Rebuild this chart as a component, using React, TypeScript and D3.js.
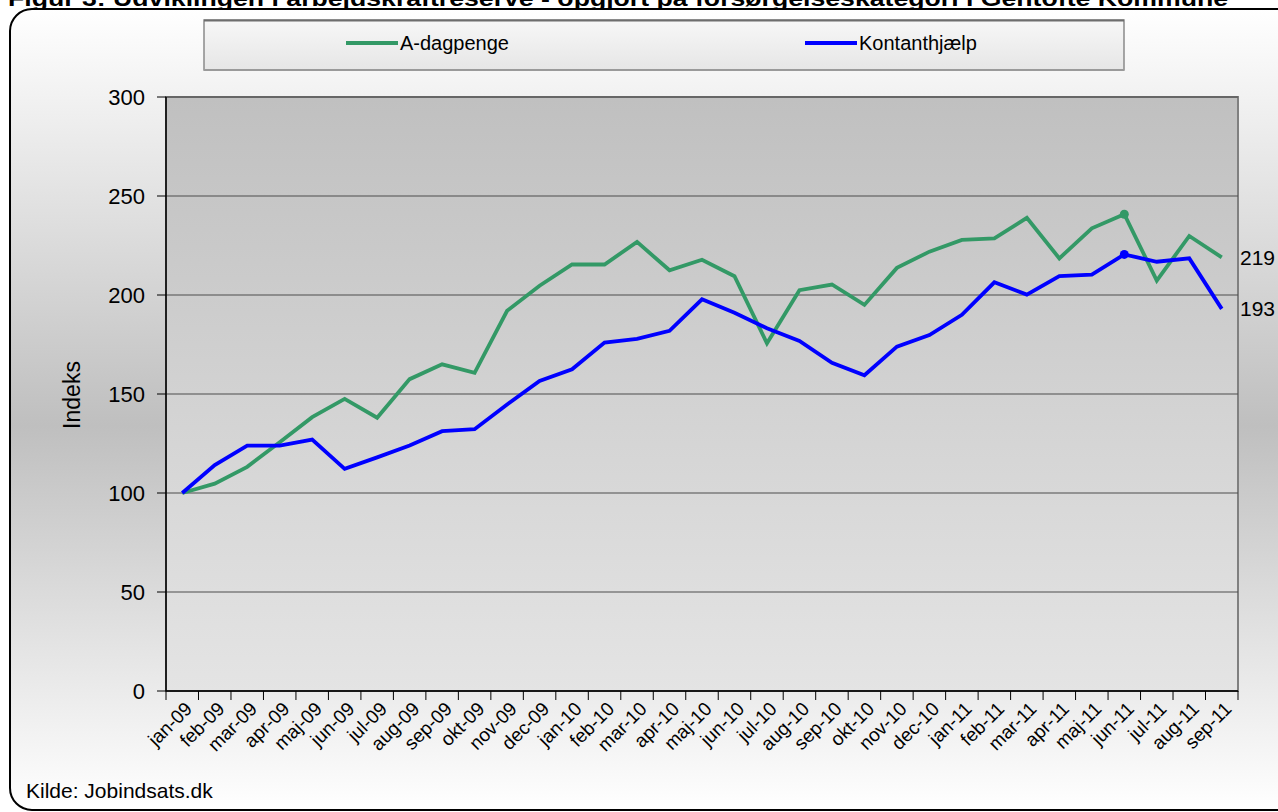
import React from "react";
import * as d3 from "d3";

const categories = [
  "jan-09","feb-09","mar-09","apr-09","maj-09","jun-09","jul-09","aug-09","sep-09","okt-09","nov-09","dec-09",
  "jan-10","feb-10","mar-10","apr-10","maj-10","jun-10","jul-10","aug-10","sep-10","okt-10","nov-10","dec-10",
  "jan-11","feb-11","mar-11","apr-11","maj-11","jun-11","jul-11","aug-11","sep-11",
];

const aDagpenge = [
  100, 104.7, 113.2, 125.6, 138.3, 147.5, 138, 157.5, 165, 160.7, 192, 204.7,
  215.4, 215.4, 226.8, 212.5, 217.8, 209.5, 175.6, 202.4, 205.3, 195, 213.7, 221.9,
  227.8, 228.6, 239, 218.5, 233.7, 240.8, 207.3, 229.8, 219,
];

const kontanthjaelp = [
  100, 114.1, 123.9, 123.9, 127, 112.2, 118, 124, 131.2, 132.2, 144.7, 156.6,
  162.5, 176, 177.8, 181.9, 197.8, 191, 183.2, 176.8, 165.8, 159.5, 173.9, 179.8,
  190, 206.4, 200.2, 209.5, 210.3, 220.5, 216.8, 218.5, 193,
];

const yTicks = [0, 50, 100, 150, 200, 250, 300];
const markerIndex = 29;
const endLabels = ["219", "193"];

const series = [
  { name: "A-dagpenge", values: aDagpenge, color: "#339966" },
  { name: "Kontanthjælp", values: kontanthjaelp, color: "#0000FF" },
];

const title =
  "Figur 3: Udviklingen i arbejdskraftreserve - opgjort på forsørgelseskategori i Gentofte Kommune";

export default function App() {
  const W = 1278;
  const H = 812;
  const left = 166, right = 1238, top = 97, bottom = 691;

  const x = d3.scaleBand<string>().domain(categories).range([left, right]).paddingInner(0).paddingOuter(0);
  const y = d3.scaleLinear().domain([0, 300]).range([bottom, top]);
  const cx = (i: number) => (x(categories[i]) as number) + x.bandwidth() / 2;

  const line = d3
    .line<number>()
    .x((_, i) => cx(i))
    .y((v) => y(v));

  const font = "Arial, 'Liberation Sans', sans-serif";
  const boundaries = d3.range(categories.length + 1).map((i) => left + i * x.step());

  return (
    <div style={{ position: "absolute", left: 0, top: 0, width: W, height: H, overflow: "hidden", background: "#fff" }}>
      <svg width={W} height={H} style={{ display: "block" }} fontFamily={font}>
        <defs>
          <linearGradient id="outerGrad" x1="0" y1="0" x2="0" y2="1">
            <stop offset="0%" stopColor="#ffffff" />
            <stop offset="52%" stopColor="#bfbfbf" />
            <stop offset="100%" stopColor="#ffffff" />
          </linearGradient>
          <linearGradient id="plotGrad" x1="0" y1="0" x2="0" y2="1">
            <stop offset="0%" stopColor="#c0c0c0" />
            <stop offset="100%" stopColor="#e4e4e4" />
          </linearGradient>
          <linearGradient id="legendGrad" x1="0" y1="0" x2="0" y2="1">
            <stop offset="0%" stopColor="#f7f7f7" />
            <stop offset="100%" stopColor="#e6e6e6" />
          </linearGradient>
        </defs>

        {/* title (cut at top, as in the reference) */}
        <text x={8} y={6} fontSize={22} fontWeight="bold" textLength={1220} lengthAdjust="spacingAndGlyphs" fill="#000">
          {title}
        </text>

        {/* outer chart area */}
        <rect x={10} y={9} width={1290} height={801} rx={22} ry={22} fill="url(#outerGrad)" stroke="#000" strokeWidth={2} />

        {/* legend */}
        <rect x={204} y={20} width={920} height={50} fill="url(#legendGrad)" stroke="#8a8a8a" strokeWidth={1.5} />
        <line x1={204} y1={20.5} x2={1124} y2={20.5} stroke="#6e6e6e" strokeWidth={2} />
        <line x1={204} y1={70} x2={1124} y2={70} stroke="#9a9a9a" strokeWidth={2} />
        {series.map((s, i) => {
          const lx = i === 0 ? 346 : 805;
          return (
            <g key={s.name}>
              <line x1={lx} y1={43} x2={lx + 52} y2={43} stroke={s.color} strokeWidth={4} />
              <text x={lx + 54} y={43} dy="0.36em" fontSize={20} fill="#000">
                {s.name}
              </text>
            </g>
          );
        })}

        {/* plot area */}
        <rect x={left} y={top} width={right - left} height={bottom - top} fill="url(#plotGrad)" stroke="#808080" strokeWidth={2} />

        {/* gridlines */}
        {yTicks.map((t) => (
          <line key={"g" + t} x1={left} x2={right} y1={y(t)} y2={y(t)} stroke="#4d4d4d" strokeWidth={1} />
        ))}

        {/* y axis */}
        <line x1={left} x2={left} y1={top} y2={bottom} stroke="#000" strokeWidth={1.5} />
        {yTicks.map((t) => (
          <g key={"y" + t}>
            <line x1={left - 9} x2={left} y1={y(t)} y2={y(t)} stroke="#000" strokeWidth={1} />
            <text x={145} y={y(t)} dy="0.36em" textAnchor="end" fontSize={22} fill="#000">
              {t}
            </text>
          </g>
        ))}
        <text transform={`translate(80,${395}) rotate(-90)`} textAnchor="middle" fontSize={23} fill="#000">
          Indeks
        </text>

        {/* x axis */}
        <line x1={left} x2={right} y1={bottom} y2={bottom} stroke="#000" strokeWidth={1.5} />
        {boundaries.map((bx, i) => (
          <line key={"xt" + i} x1={bx} x2={bx} y1={bottom} y2={bottom + 9} stroke="#000" strokeWidth={1} />
        ))}
        {categories.map((c, i) => (
          <text
            key={c}
            transform={`translate(${cx(i) + 11},${710}) rotate(-45)`}
            textAnchor="end"
            fontSize={19}
            fill="#000"
          >
            {c}
          </text>
        ))}

        {/* lines */}
        {series.map((s) => (
          <path key={s.name} d={line(s.values) as string} fill="none" stroke={s.color} strokeWidth={3.8} strokeLinejoin="miter" />
        ))}
        {series.map((s) => (
          <circle key={"m" + s.name} cx={cx(markerIndex)} cy={y(s.values[markerIndex])} r={4.5} fill={s.color} />
        ))}

        {/* end labels */}
        {series.map((s, i) => (
          <text key={"l" + s.name} x={1240} y={y(s.values[s.values.length - 1])} dy="0.36em" fontSize={21} fill="#000">
            {endLabels[i]}
          </text>
        ))}

        {/* source */}
        <text x={26} y={798} fontSize={21} fill="#000">
          Kilde: Jobindsats.dk
        </text>
      </svg>
    </div>
  );
}
